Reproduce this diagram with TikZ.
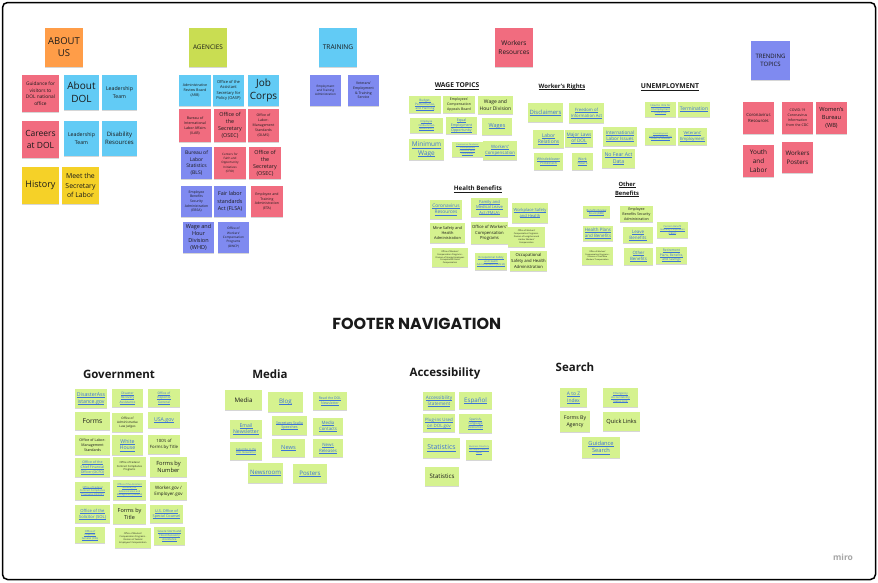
\documentclass[tikz,border=0pt]{standalone}
\usepackage{fontspec}
\setmainfont{Open Sans}
\newfontfamily\poppins{Poppins}
\usetikzlibrary{shadows}
\definecolor{pkc}{HTML}{F16C7F}
\definecolor{lbc}{HTML}{62CBF5}
\definecolor{vbc}{HTML}{7F8AF0}
\definecolor{ylc}{HTML}{F5D128}
\definecolor{orc}{HTML}{FF9D48}
\definecolor{lmc}{HTML}{C9DD52}
\definecolor{grc}{HTML}{D5F28F}
\definecolor{lnk}{HTML}{3D74D6}
\definecolor{txt}{HTML}{1A1A1A}
\newcommand\lk[1]{\leavevmode\setbox0\hbox{#1}\rlap{\rule[-0.17em]{\wd0}{0.055em}}\box0}
\newcommand\sn[7]{\pgfmathsetmacro\snw{#5-#3}\pgfmathsetmacro\snh{#6-#4}%
\node[sticky,#1,minimum width=\snw pt,minimum height=\snh pt] (#2) at ({(#3+#5)/2},{(#4+#6)/2}) {#7};}
\tikzset{
 sticky/.style={rectangle,inner sep=0.6pt,align=center,text=txt,
   drop shadow={shadow xshift=0pt,shadow yshift=-1.3pt,opacity=0.16,fill=black}},
 fz/.style 2 args={font=\fontsize{#1}{#2}\selectfont},
 pk/.style={fill=pkc}, lb/.style={fill=lbc}, vb/.style={fill=vbc},
 yl/.style={fill=ylc}, or/.style={fill=orc}, lm/.style={fill=lmc},
 gr/.style={fill=grc}, ln/.style={text=lnk},
 hd/.style={inner sep=0.5pt,text=txt,align=center},
 sec/.style={inner sep=0pt,text=txt,font=\bfseries\fontsize{11.5}{13}\selectfont},
}
\begin{document}
\begin{tikzpicture}[x=1pt,y=-1pt]
\fill[white] (0,0) rectangle (878,582);
\useasboundingbox (0,0) rectangle (878,582);
\draw[line width=1.5pt,rounded corners=5pt] (2.5,2.5) rectangle (875.5,579.5);

% ABOUT US
\sn{or,fz={9.5}{12}}{aboutus}{45}{28}{83}{67}{ABOUT\\US}
\sn{pk,fz={4.8}{6.6}}{visitors}{22}{75}{59}{112}{Guidance for\\visitors to\\DOL national\\office}
\sn{lb,fz={10}{13}}{aboutdol}{64}{75}{99}{110}{About\\DOL}
\sn{lb,fz={5.2}{7.6}}{leadone}{102}{75}{137}{110}{Leadership\\Team}
\sn{pk,fz={8.5}{12}}{careers}{22}{121}{59}{158}{Careers\\at DOL}
\sn{lb,fz={5.2}{7.6}}{leadtwo}{64}{121}{99}{156}{Leadership\\Team}
\sn{lb,fz={6}{8.4}}{disab}{102}{121}{137}{156}{Disability\\Resources}
\sn{yl,fz={9}{12}}{history}{22}{167}{59}{204}{History}
\sn{yl,fz={6.9}{9.6}}{meet}{62}{167}{99}{204}{Meet the\\Secretary\\of Labor}

% AGENCIES
\sn{lm,fz={6.4}{8}}{agencies}{189}{28}{227}{67}{AGENCIES}
\sn{lb,fz={3.6}{5}}{arb}{179}{75}{211}{106}{Administrative\\Review Board\\(ARB)}
\sn{lb,fz={4}{5.4}}{oasp}{213}{75}{244}{106}{Office of the\\Assistant\\Secretary for\\Policy (OASP)}
\sn{lb,fz={10}{12.7}}{jobcorps}{248}{75}{279}{106}{Job\\Corps}
\sn{pk,fz={3.6}{5}}{ilab}{179}{109}{211}{142}{Bureau of\\International\\Labor Affairs\\(ILAB)}
\sn{pk,fz={5.4}{7}}{osecone}{214}{109}{246}{142}{Office of\\the\\Secretary\\(OSEC)}
\sn{pk,fz={3.5}{4.8}}{olms}{248}{109}{279}{142}{Office of\\Labor-\\Management\\Standards\\(OLMS)}
\sn{vb,fz={5}{6.6}}{bls}{181}{147}{212}{179}{Bureau of\\Labor\\Statistics\\(BLS)}
\sn{pk,fz={3}{4.2}}{cfoi}{214}{147}{246}{179}{Centers for\\Faith and\\Opportunity\\Initiatives\\(CFOI)}
\sn{pk,fz={5.4}{7}}{osectwo}{249}{147}{281}{179}{Office of\\the\\Secretary\\(OSEC)}
\sn{vb,fz={3.4}{4.7}}{ebsa}{181}{186}{212}{217}{Employee\\Benefits\\Security\\Administration\\(EBSA)}
\sn{vb,fz={5.4}{7.2}}{flsa}{214}{186}{246}{217}{Fair labor\\standards\\Act (FLSA)}
\sn{pk,fz={3.5}{4.8}}{eta}{251}{186}{283}{217}{Employee and\\Training\\Administration\\(ETA)}
\sn{vb,fz={5.5}{7.2}}{whd}{183}{222}{214}{253}{Wage and\\Hour\\Division\\(WHD)}
\sn{vb,fz={3.1}{4.3}}{owcp}{218}{222}{249}{253}{Office of\\Workers'\\Compensation\\Programs\\(OWCP)}

% TRAINING
\sn{lb,fz={6.6}{8}}{training}{319}{28}{357}{67}{TRAINING}
\sn{vb,fz={3}{4.3}}{etatr}{310}{75}{341}{106}{Employment\\and Training\\Administration}
\sn{vb,fz={3.5}{4.8}}{vets}{348}{75}{379}{106}{Veterans'\\Employment\\\& Training\\Service}
\sn{pk,fz={6.5}{9}}{workersres}{495}{28}{533}{67}{Workers\\Resources}

% WAGE TOPICS
\node[hd,font=\bfseries\fontsize{6.7}{8}\selectfont] (wagetopics) at (457,86) {\lk{WAGE TOPICS}};
\sn{gr,ln,fz={3.1}{4.1}}{budget}{409}{96}{441}{113}{\lk{Budget,}\\\lk{Performance,}\\\lk{and Planning}}
\sn{gr,fz={3.5}{4.6}}{ecab}{443}{96}{475}{113}{Employees'\\Compensation\\Appeals Board}
\sn{gr,fz={5}{6.6}}{whdtwo}{478}{96}{513}{114}{Wage and\\Hour Division}
\sn{gr,ln,fz={2.6}{3.5}}{empomb}{410}{118}{443}{133}{\lk{Employee}\\\lk{Ombudsman}\\\lk{(WAB EEOC)}}
\sn{gr,ln,fz={3.6}{4.7}}{eeo}{446}{117}{477}{134}{\lk{Equal}\\\lk{Employment}\\\lk{Opportunity}}
\sn{gr,ln,fz={5.5}{7}}{wages}{482}{118}{512}{135}{\lk{Wages}}
\sn{gr,ln,fz={6.5}{8.4}}{minwage}{409}{139}{444}{160}{\lk{Minimum}\\\lk{Wage}}
\sn{gr,ln,fz={2.1}{2.8}}{covidwage}{452}{142}{483}{157}{\lk{Coronavirus Pandemic}\\\lk{Unemployment}\\\lk{Insurance Relief}\\\lk{Information}}
\sn{gr,ln,fz={4.4}{5.7}}{workcomp}{483}{141}{517}{160}{\lk{Workers'}\\\lk{Compensation}}

% WORKER'S RIGHTS
\node[hd,font=\bfseries\fontsize{6}{7}\selectfont] (wrights) at (562,87) {\lk{Worker's Rights}};
\sn{gr,ln,fz={5.9}{7.5}}{disclaim}{528}{103}{563}{122}{\lk{Disclaimers}}
\sn{gr,ln,fz={4.3}{5.6}}{foia}{569}{103}{604}{123}{\lk{Freedom of}\\\lk{Information Act}}
\sn{gr,ln,fz={5}{6.4}}{laborrel}{533}{130}{564}{148}{\lk{Labor}\\\lk{Relations}}
\sn{gr,ln,fz={4.7}{6.1}}{majorlaws}{565}{130}{593}{147}{\lk{Major Laws}\\\lk{of DOL}}
\sn{gr,ln,fz={4.7}{6.1}}{intl}{603}{127}{637}{146}{\lk{International}\\\lk{Labor Issues}}
\sn{gr,ln,fz={3.5}{4.6}}{whistle}{534}{153}{563}{170}{\lk{Whistleblower}\\\lk{Protection}}
\sn{gr,ln,fz={3.5}{4.6}}{workhours}{572}{153}{593}{170}{\lk{Work}\\\lk{Hours}}
\sn{gr,ln,fz={5.2}{6.7}}{nofear}{602}{149}{635}{168}{\lk{No Fear Act}\\\lk{Data}}

% UNEMPLOYMENT
\node[hd,font=\bfseries\fontsize{6.8}{8}\selectfont] (unemp) at (670,87) {\lk{UNEMPLOYMENT}};
\sn{gr,ln,fz={2.6}{3.4}}{howfile}{645}{102}{676}{117}{\lk{How Do I File for}\\\lk{Unemployment}\\\lk{Insurance}}
\sn{gr,ln,fz={5}{6.4}}{termin}{678}{102}{710}{117}{\lk{Termination}}
\sn{gr,ln,fz={2.1}{2.8}}{uirelief}{645}{128}{676}{145}{\lk{Unemployment}\\\lk{Insurance Relief During}\\\lk{COVID-19 Outbreak}}
\sn{gr,ln,fz={4.2}{5.4}}{vetemp}{678}{128}{707}{145}{\lk{Veterans'}\\\lk{Employment}}

% TRENDING TOPICS
\sn{vb,fz={6}{8.4}}{trending}{751}{41}{790}{80}{TRENDING\\TOPICS}
\sn{pk,fz={4.3}{5.8}}{coronares}{743}{102}{774}{134}{Coronavirus\\Resources}
\sn{pk,fz={3.5}{5}}{covidcdc}{782}{102}{813}{134}{COVID-19\\Coronavirus\\Information\\from the CDC}
\sn{pk,fz={5.7}{7.8}}{womens}{816}{102}{847}{134}{Women's\\Bureau\\(WB)}
\sn{pk,fz={6.4}{8.6}}{youth}{743}{145}{774}{177}{Youth\\and\\Labor}
\sn{pk,fz={6.2}{8.6}}{posters}{782}{142}{813}{173}{Workers\\Posters}

% HEALTH BENEFITS
\node[hd,font=\bfseries\fontsize{6.2}{7}\selectfont] (health) at (478,189) {\lk{Health Benefits}};
\sn{gr,ln,fz={4.8}{6.2}}{coronahb}{430}{200}{462}{219}{\lk{Coronavirus}\\\lk{Resources}}
\sn{gr,ln,fz={4.1}{5.3}}{fmla}{471}{198}{508}{217}{\lk{Family and}\\\lk{Medical Leave}\\\lk{Act (FMLA)}}
\sn{gr,ln,fz={4.1}{5.6}}{wsh}{512}{203}{548}{223}{\lk{Workplace Safety}\\\lk{and Health}}
\sn{gr,fz={3.9}{5.2}}{msha}{430}{223}{465}{243}{Mine Safety and\\Health\\Administration}
\sn{gr,fz={4.2}{5.6}}{owcphb}{471}{222}{508}{244}{Office of Workers'\\Compensation\\Programs}
\sn{gr,fz={2.1}{2.8}}{dlhwc}{508}{227}{545}{247}{Office of Workers'\\Compensation Programs -\\Division of Longshore and\\Harbor Workers'\\Compensation}
\sn{gr,fz={2.1}{2.8}}{deeoic}{432}{248}{468}{267}{Office of Workers'\\Compensation Programs -\\Division of Energy Employees\\Occupational Illness\\Compensation}
\sn{gr,ln,fz={2.7}{3.6}}{oshaone}{475}{253}{507}{270}{\lk{Occupational Safety}\\\lk{and Health}\\\lk{Administration (OSHA)}}
\sn{gr,fz={4.2}{5.6}}{oshatwo}{510}{251}{547}{271}{Occupational\\Safety and Health\\Administration}

% OTHER BENEFITS
\node[hd,font=\bfseries\fontsize{5.8}{9}\selectfont] (otherhd) at (627,189.5) {\lk{Other}\\\lk{Benefits}};
\sn{gr,ln,fz={2.7}{3.6}}{brb}{583}{206}{610}{218}{\lk{Benefits Review}\\\lk{Board (BRB)}}
\sn{gr,fz={3.6}{4.8}}{ebsatwo}{620}{206}{653}{222}{Employee\\Benefits Security\\Administration}
\sn{gr,ln,fz={4.5}{6}}{healthplans}{583}{226}{613}{241}{\lk{Health Plans}\\\lk{and Benefits}}
\sn{gr,ln,fz={4.5}{6}}{leaveb}{623}{227}{653}{243}{\lk{Leave}\\\lk{Benefits}}
\sn{gr,ln,fz={2.4}{3.3}}{pbgc}{657}{222}{688}{238}{\lk{Pension Benefit}\\\lk{Guaranty Corporation}\\\lk{(PBGC)}}
\sn{gr,fz={2}{2.8}}{dcmwc}{582}{247}{613}{265}{Office of Workers'\\Compensation Programs -\\Division of Coal Mine\\Workers' Compensation}
\sn{gr,ln,fz={4.4}{5.8}}{otherb}{624}{248}{653}{265}{\lk{Other}\\\lk{Benefits}}
\sn{gr,ln,fz={3.3}{4.4}}{retire}{656}{247}{687}{264}{\lk{Retirement}\\\lk{Plans, Benefits,}\\\lk{and Savings}}

% FOOTER
\node[inner sep=0pt,text=txt,font=\poppins\bfseries\fontsize{16}{18}\selectfont] (footer) at (416.7,324) {FOOTER NAVIGATION};

% GOVERNMENT
\node[sec] (gov) at (119,374) {Government};
\sn{gr,ln,fz={5.2}{6.8}}{disaster}{75}{389}{107}{408}{\lk{DisasterAss}\\\lk{istance.gov}}
\sn{gr,ln,fz={3.2}{4.3}}{drecov}{112}{389}{143}{407}{\lk{Disaster}\\\lk{Recovery}\\\lk{Assistance}}
\sn{gr,ln,fz={3.2}{4.3}}{oigone}{148}{389}{180}{407}{\lk{Office of}\\\lk{Inspector}\\\lk{General}}
\sn{gr,fz={6.7}{8.5}}{forms}{75}{412}{110}{430}{Forms}
\sn{gr,fz={3.1}{4.2}}{oalj}{112}{413}{143}{432}{Office of\\Administrative\\Law Judges}
\sn{gr,ln,fz={5.2}{6.8}}{usagov}{148}{412}{180}{428}{\lk{USA.gov}}
\sn{gr,fz={3.6}{4.8}}{olmstwo}{75}{435}{110}{455}{Office of Labor-\\Management\\Standards}
\sn{gr,ln,fz={5.2}{6.8}}{whitehouse}{112}{435}{143}{455}{\lk{White}\\\lk{House}}
\sn{gr,fz={4.3}{5.7}}{formshundred}{148}{435}{180}{454}{100's of\\Forms by Title}
\sn{gr,ln,fz={3.5}{4.7}}{ocfo}{75}{458}{110}{477}{\lk{Office of the}\\\lk{Chief Financial}\\\lk{Officer (OCFO)}}
\sn{gr,fz={2.6}{3.5}}{ofccpone}{113}{457}{146}{476}{Office of Federal\\Contract Compliance\\Programs}
\sn{gr,fz={5.7}{7.4}}{formsnum}{150}{457}{187}{477}{Forms by\\Number}
\sn{gr,ln,fz={2.6}{3.5}}{ofccptwo}{75}{482}{110}{500}{\lk{Office of Federal}\\\lk{Contract Compliance}\\\lk{Programs (OFCCP)}}
\sn{gr,ln,fz={2.4}{3.3}}{oasam}{113}{480}{146}{500}{\lk{Office of the Assistant}\\\lk{Secretary for}\\\lk{Administration and}\\\lk{Management (OASAM)}}
\sn{gr,fz={4.5}{6}}{workergov}{150}{482}{187}{500}{Worker.gov /\\Employer.gov}
\sn{gr,ln,fz={4.2}{5.6}}{sol}{75}{505}{110}{523}{\lk{Office of the}\\\lk{Solicitor (SOL)}}
\sn{gr,fz={5.5}{7.2}}{formstitle}{113}{504}{146}{524}{Forms by\\Title}
\sn{gr,ln,fz={3.8}{5}}{osc}{150}{505}{183}{523}{\lk{U.S. Office of}\\\lk{Special Counsel}}
\sn{gr,ln,fz={2.6}{3.5}}{oigtwo}{75}{527}{105}{543}{\lk{Office of}\\\lk{Inspector}\\\lk{General (OIG)}}
\sn{gr,fz={2.2}{3}}{dfec}{115}{528}{151}{548}{Office of Workers'\\Compensation Programs -\\Division of Federal\\Employees' Compensation}
\sn{gr,ln,fz={2.9}{3.9}}{severe}{154}{527}{185}{545}{\lk{Severe Storm and}\\\lk{Flood Recovery}\\\lk{Assistance}}

% MEDIA
\node[sec] (media) at (270,374) {Media};
\sn{gr,fz={6.2}{8}}{medianote}{225}{390}{262}{410}{Media}
\sn{gr,ln,fz={6.2}{8}}{blog}{268}{392}{303}{412}{\lk{Blog}}
\sn{gr,ln,fz={3.5}{4.7}}{readdol}{313}{392}{347}{410}{\lk{Read the DOL}\\\lk{Newsletter}}
\sn{gr,ln,fz={5.1}{6.7}}{email}{230}{420}{262}{438}{\lk{Email}\\\lk{Newsletter}}
\sn{gr,ln,fz={3.7}{4.9}}{speeches}{272}{416}{307}{435}{\lk{Secretary Scalia}\\\lk{Speeches}}
\sn{gr,ln,fz={4.4}{5.8}}{contacts}{313}{418}{343}{435}{\lk{Media}\\\lk{Contacts}}
\sn{gr,ln,fz={2.7}{3.6}}{subscribe}{230}{442}{262}{460}{\lk{Subscribe to the}\\\lk{DOL Newsletter}}
\sn{gr,ln,fz={5.7}{7.4}}{news}{272}{439}{305}{457}{\lk{News}}
\sn{gr,ln,fz={4.4}{5.8}}{releases}{313}{439}{343}{457}{\lk{News}\\\lk{Releases}}
\sn{gr,ln,fz={6.1}{8}}{newsroom}{248}{463}{283}{483}{\lk{Newsroom}}
\sn{gr,ln,fz={6.1}{8}}{posterstwo}{293}{464}{327}{483}{\lk{Posters}}

% ACCESSIBILITY
\node[sec] (access) at (445,374) {Accessibility};
\sn{gr,ln,fz={4.7}{6.2}}{accstmt}{423}{392}{455}{410}{\lk{Accessibility}\\\lk{Statement}}
\sn{gr,ln,fz={6.2}{8}}{espanol}{459}{392}{492}{409}{\lk{Español}}
\sn{gr,ln,fz={4.4}{5.8}}{plugins}{423}{414}{455}{432}{\lk{Plug-ins Used}\\\lk{on DOL.gov}}
\sn{gr,ln,fz={3.1}{4.2}}{spanish}{459}{414}{492}{433}{\lk{Spanish-}\\\lk{Language}\\\lk{Resources}}
\sn{gr,ln,fz={6.9}{9}}{statsone}{423}{438}{460}{458}{\lk{Statistics}}
\sn{gr,ln,fz={2.3}{3.2}}{bizdir}{466}{440}{492}{460}{\lk{Business Directory}\\\lk{the department of}\\\lk{Labor}}
\sn{gr,fz={6.1}{8}}{statstwo}{425}{467}{459}{486}{Statistics}

% SEARCH
\node[sec] (search) at (575,367) {Search};
\sn{gr,ln,fz={4.9}{6.4}}{atoz}{560}{388}{587}{407}{\lk{A to Z}\\\lk{Index}}
\sn{gr,ln,fz={2.8}{3.8}}{emerg}{603}{388}{638}{407}{\lk{Emergency}\\\lk{Accountability}\\\lk{Status Link}}
\sn{gr,fz={5.1}{6.7}}{formsagency}{560}{411}{590}{432}{Forms By\\Agency}
\sn{gr,fz={5.7}{7.4}}{quick}{603}{412}{640}{431}{Quick Links}
\sn{gr,ln,fz={5.7}{7.4}}{guidsearch}{582}{437}{620}{458}{\lk{Guidance}\\\lk{Search}}

% miro logo
\node[inner sep=0pt,text=black!35,font=\bfseries\fontsize{8.5}{10}\selectfont] (miro) at (843,557) {miro};
\end{tikzpicture}
\end{document}
